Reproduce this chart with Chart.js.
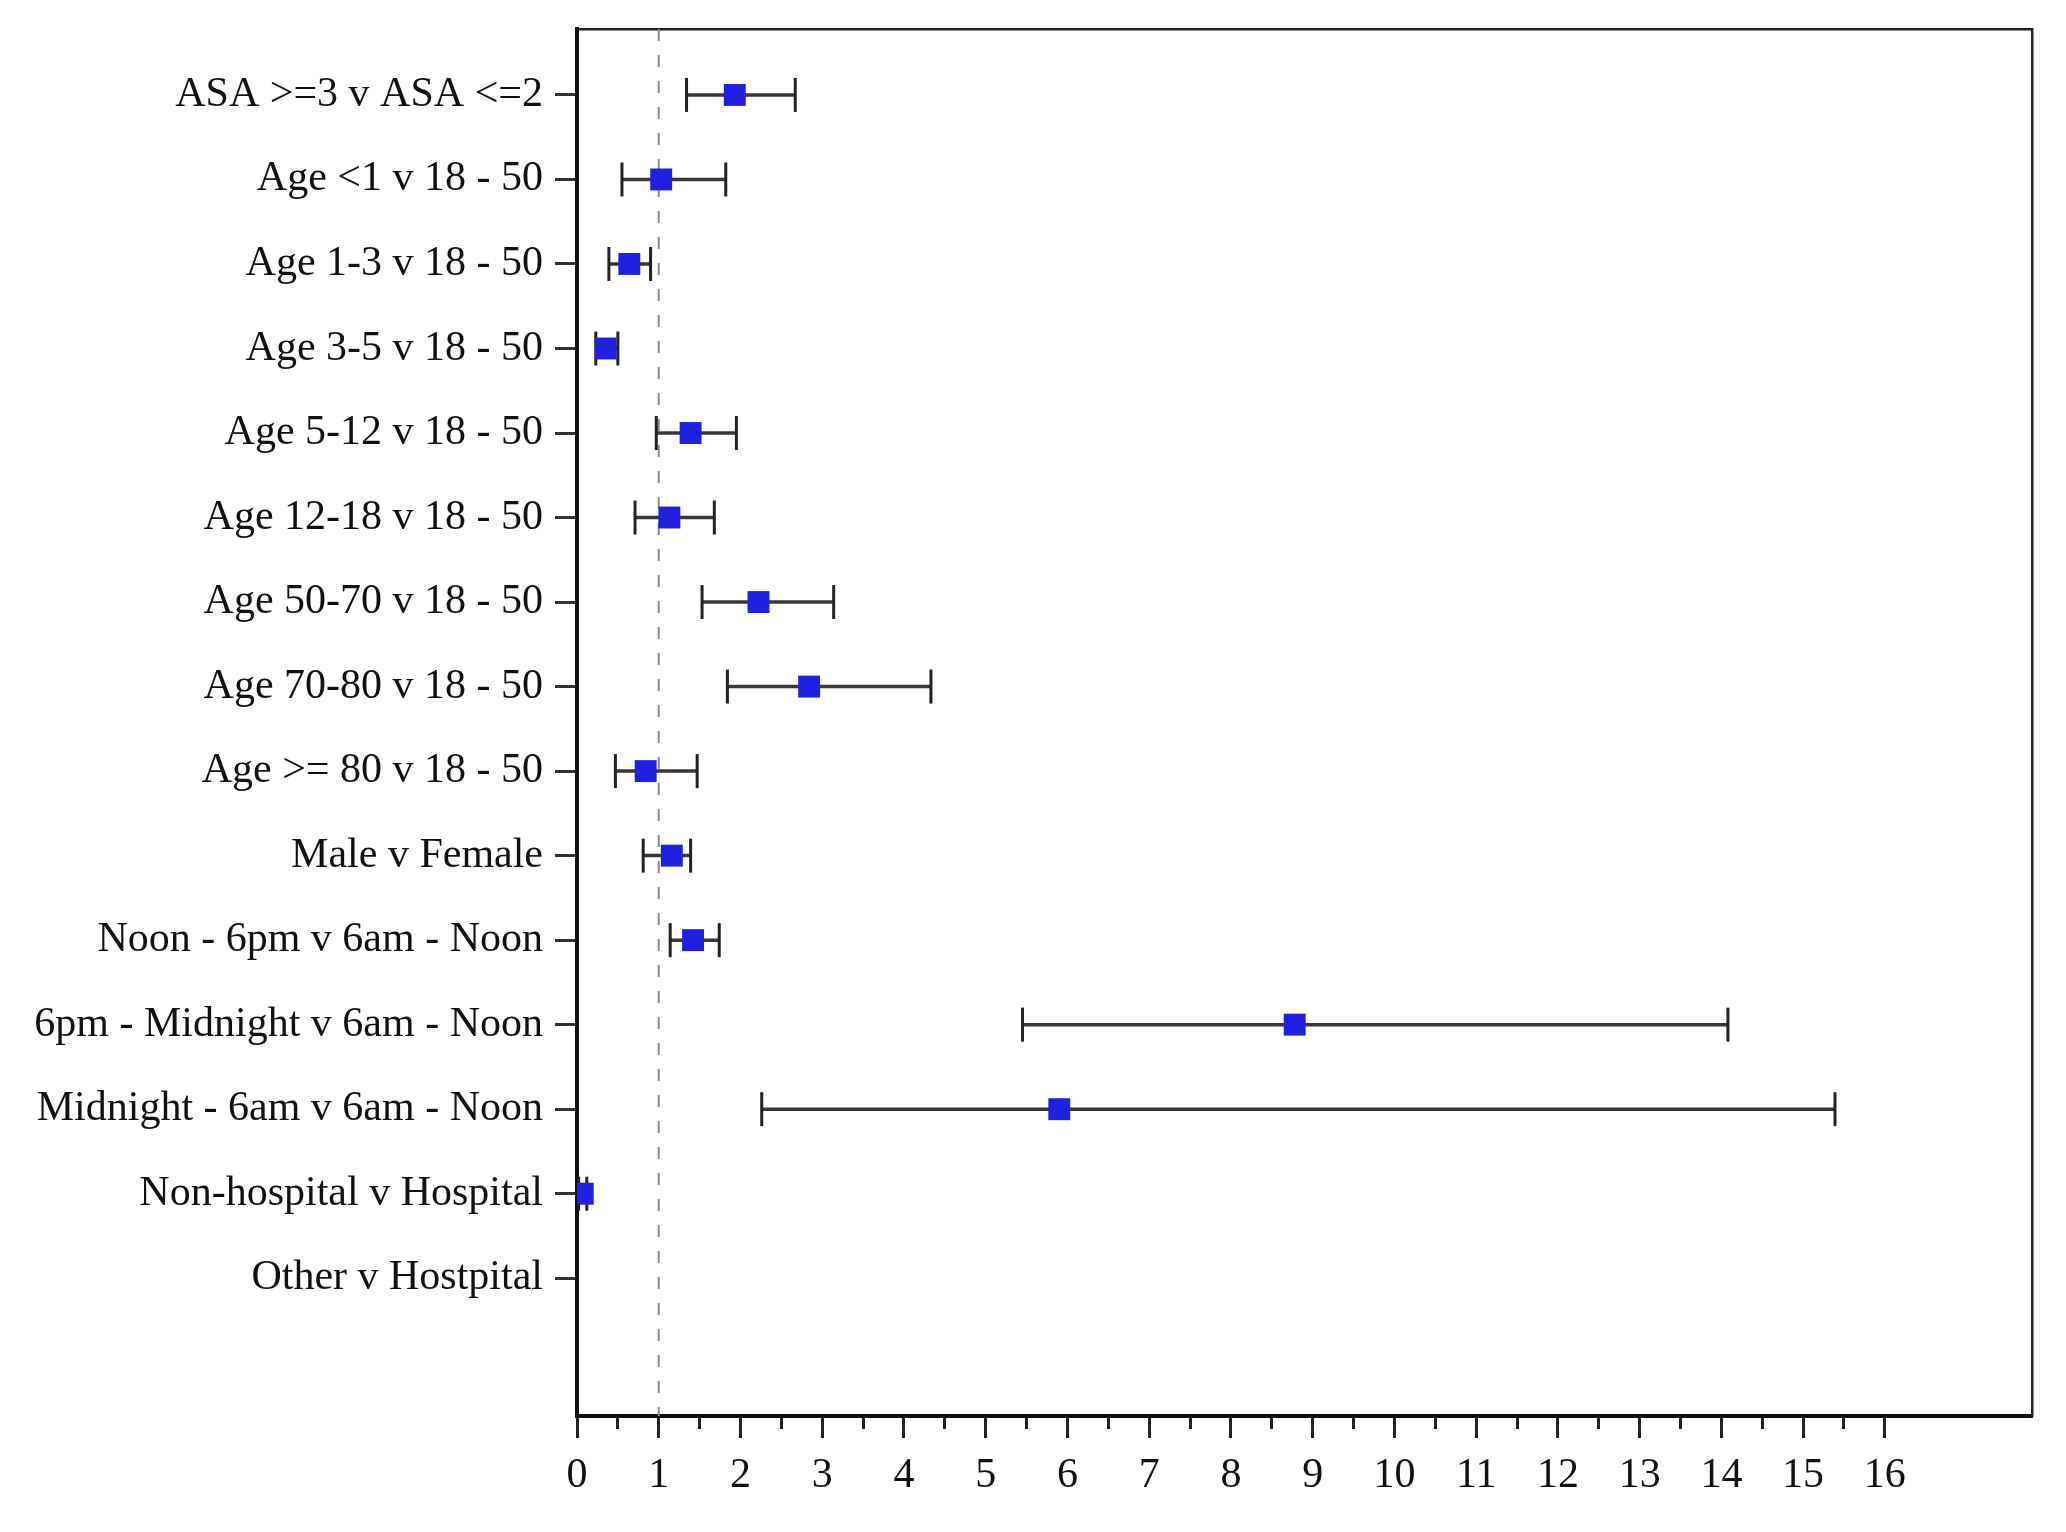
<!DOCTYPE html>
<html>
<head>
<meta charset="utf-8">
<script src="https://cdn.jsdelivr.net/npm/chart.js@4.4.1/dist/chart.umd.min.js"></script>
<style>
html,body{margin:0;padding:0;background:#ffffff;}
#wrap{width:2066px;height:1532px;}
</style>
</head>
<body>
<div id="wrap"><canvas id="c" width="2066" height="1532"></canvas></div>
<script>
// ---- data ----
const categories = [
  "ASA >=3 v ASA <=2",
  "Age <1 v 18 - 50",
  "Age 1-3 v 18 - 50",
  "Age 3-5 v 18 - 50",
  "Age 5-12 v 18 - 50",
  "Age 12-18 v 18 - 50",
  "Age 50-70 v 18 - 50",
  "Age 70-80 v 18 - 50",
  "Age >= 80 v 18 - 50",
  "Male v Female",
  "Noon - 6pm v 6am - Noon",
  "6pm - Midnight v 6am - Noon",
  "Midnight - 6am v 6am - Noon",
  "Non-hospital v Hospital",
  "Other v Hostpital"
];
const estimates = [1.93, 1.03, 0.64, 0.35, 1.39, 1.13, 2.22, 2.84, 0.84, 1.16, 1.42, 8.78, 5.90, 0.07, null];
const lowerCI   = [1.34, 0.55, 0.39, 0.23, 0.97, 0.71, 1.53, 1.84, 0.47, 0.81, 1.14, 5.45, 2.26, 0.02, null];
const upperCI   = [2.67, 1.82, 0.90, 0.50, 1.95, 1.68, 3.14, 4.33, 1.47, 1.39, 1.74, 14.08, 15.39, 0.12, null];
const xMajorTicks = [0, 1, 2, 3, 4, 5, 6, 7, 8, 9, 10, 11, 12, 13, 14, 15, 16];
const xMinorTicks = [0.5, 1.5, 2.5, 3.5, 4.5, 5.5, 6.5, 7.5, 8.5, 9.5, 10.5, 11.5, 12.5, 13.5, 14.5, 15.5];
const referenceValue = 1;

// ---- layout constants ----
const X_MIN = 0, X_MAX = 17.8;
const Y_MIN = -0.78, Y_MAX = 15.63;
const FONT = { family: "'Liberation Serif', 'Times New Roman', serif", size: 42 };

function noPad(s) { s.paddingTop = 0; s.paddingBottom = 0; s.paddingLeft = 0; s.paddingRight = 0; }

// ---- datasets ----
const datasets = [];

datasets.push({
  type: 'scatter',
  label: 'estimate',
  order: 0,
  data: estimates.map((v, i) => v == null ? null : { x: v, y: i }).filter(d => d),
  pointStyle: 'rect',
  pointRadius: 15.5,
  pointHoverRadius: 15.5,
  backgroundColor: '#2020E0',
  borderColor: '#2020E0',
  borderWidth: 0,
  showLine: false
});

categories.forEach((c, i) => {
  if (lowerCI[i] == null) return;
  datasets.push({
    type: 'line',
    label: 'ci ' + c,
    order: 1,
    data: [{ x: lowerCI[i], y: i }, { x: upperCI[i], y: i }],
    borderColor: '#383838',
    borderWidth: 3.5,
    pointStyle: 'line',
    pointRotation: 90,
    pointRadius: 17,
    pointHoverRadius: 17,
    pointBorderColor: '#222222',
    pointBorderWidth: 3,
    fill: false
  });
});

datasets.push({
  type: 'line',
  label: 'reference',
  order: 2,
  data: [{ x: referenceValue, y: Y_MIN }, { x: referenceValue, y: Y_MAX }],
  borderColor: '#8a8a8a',
  borderWidth: 2,
  borderDash: [12, 14],
  pointRadius: 0,
  fill: false
});

new Chart(document.getElementById('c'), {
  data: { datasets },
  options: {
    responsive: false,
    animation: false,
    devicePixelRatio: 1,
    layout: { padding: { top: 29, right: 34, left: 0, bottom: 0 } },
    plugins: { legend: { display: false }, tooltip: { enabled: false } },
    scales: {
      x: {
        type: 'linear', position: 'bottom', min: X_MIN, max: X_MAX,
        afterBuildTicks: s => {
          s.ticks = xMajorTicks.concat(xMinorTicks).sort((a, b) => a - b).map(v => ({ value: v }));
        },
        afterFit: s => { s.height = 1532 - 1416; noPad(s); },
        ticks: {
          autoSkip: false, maxRotation: 0, minRotation: 0, padding: 13,
          color: '#111', font: FONT,
          callback: v => xMajorTicks.includes(v) ? String(v) : ''
        },
        grid: {
          drawOnChartArea: false, tickLength: 22, tickWidth: 3, tickColor: '#222',
          tickBorderDash: ctx => (ctx.tick && xMajorTicks.includes(ctx.tick.value)) ? [] : [11, 100]
        },
        border: { display: true, width: 4, color: '#111' }
      },
      xTop: {
        type: 'linear', position: 'top', min: X_MIN, max: X_MAX,
        afterFit: s => { s.height = 0; noPad(s); },
        ticks: { display: false },
        grid: { display: false },
        border: { display: true, width: 2.5, color: '#222' }
      },
      y: {
        type: 'linear', position: 'left', reverse: true, min: Y_MIN, max: Y_MAX, z: 1,
        afterBuildTicks: s => { s.ticks = categories.map((_, i) => ({ value: i })); },
        afterFit: s => { s.width = 577; noPad(s); },
        ticks: {
          autoSkip: false, padding: 12, color: '#111', font: FONT,
          callback: v => categories[v] !== undefined ? categories[v] : ''
        },
        grid: { drawOnChartArea: false, tickLength: 22, tickWidth: 3, tickColor: '#333' },
        border: { display: true, width: 4, color: '#111' }
      },
      yRight: {
        type: 'linear', position: 'right', min: Y_MIN, max: Y_MAX,
        afterFit: s => { s.width = 0; noPad(s); },
        ticks: { display: false },
        grid: { display: false },
        border: { display: true, width: 2.5, color: '#222' }
      }
    }
  }
});
</script>
</body>
</html>
